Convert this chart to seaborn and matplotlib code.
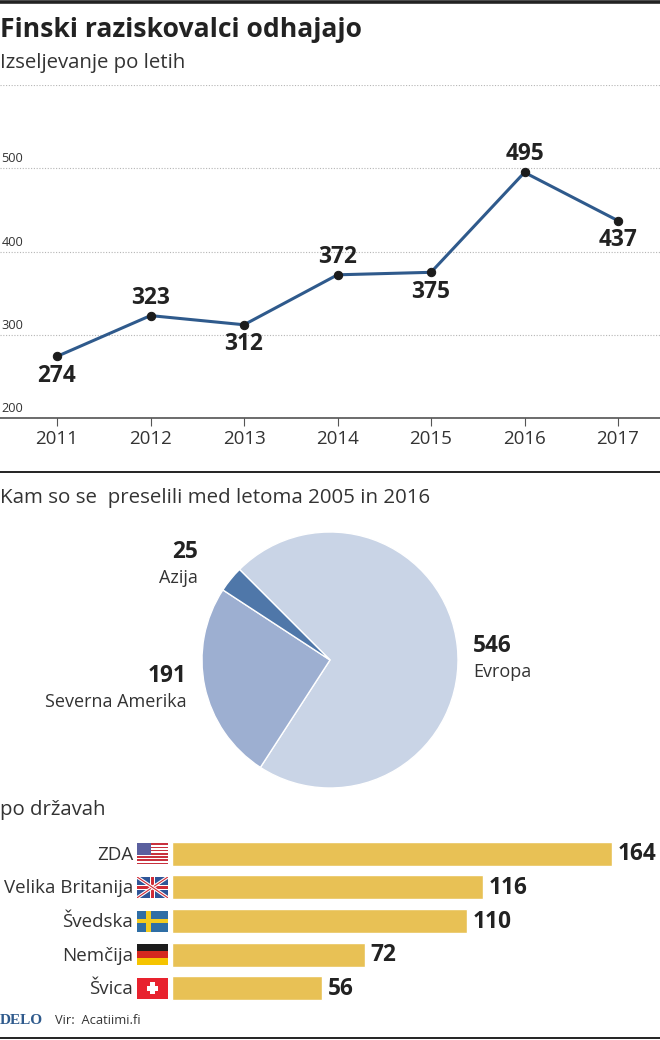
import matplotlib
matplotlib.use('Agg')
import matplotlib.pyplot as plt
from matplotlib.lines import Line2D
from matplotlib.patches import Rectangle
import pandas as pd
import seaborn as sns

W, H = 660, 1040

years = [2011, 2012, 2013, 2014, 2015, 2016, 2017]
emigrants = [274, 323, 312, 372, 375, 495, 437]
y_ticks = [200, 300, 400, 500, 600]

regions = ['Evropa', 'Severna Amerika', 'Azija']
region_values = [546, 191, 25]
region_colors = ['#c9d4e6', '#9dafd1', '#4f77a9']

countries = ['ZDA', 'Velika Britanija', 'Švedska', 'Nemčija', 'Švica']
country_values = [164, 116, 110, 72, 56]

DARK = '#222222'
TEXT = '#333333'
LINE = '#2f5a8c'
BAR = '#e8c155'
NUM_SIZE = 16.3

sns.set_theme(style='white')
plt.rcParams['font.family'] = ['Open Sans', 'DejaVu Sans']


def px_axes(fig, x0, y0, x1, y1):
    # pixel box with y measured from the top of the picture
    return fig.add_axes([x0 / W, 1 - y1 / H, (x1 - x0) / W, (y1 - y0) / H])


def label(fig, x, y, s, size=14.7, weight='normal', ha='left', color=TEXT, **kw):
    fig.text(x / W, 1 - y / H, s, fontsize=size, fontweight=weight, ha=ha,
             va='center', color=color, **kw)


def rule(fig, y, lw=1.5, color=DARK):
    fig.add_artist(Line2D([0, 1], [1 - y / H] * 2, color=color, lw=lw,
                          transform=fig.transFigure))


def draw_flag(fig, name, x0, y0, x1, y1):
    ax = px_axes(fig, x0, y0, x1, y1)
    ax.set_xlim(0, 1)
    ax.set_ylim(0, 1)
    ax.axis('off')
    def r(x, y, w, h, c):
        ax.add_patch(Rectangle((x, y), w, h, fc=c, ec='none'))
    if name == 'ZDA':
        r(0, 0, 1, 1, 'white')
        for i in range(0, 13, 2):
            r(0, i / 13, 1, 1 / 13, '#c8313e')
        r(0, 6 / 13, 0.45, 7 / 13, '#5a5f9e')
    elif name == 'Velika Britanija':
        r(0, 0, 1, 1, '#2f5597')
        for a, b in [((0, 0), (1, 1)), ((0, 1), (1, 0))]:
            ax.plot([a[0], b[0]], [a[1], b[1]], color='white', lw=2.4)
            ax.plot([a[0], b[0]], [a[1], b[1]], color='#cf2b36', lw=0.8)
        r(0.42, 0, 0.16, 1, 'white')
        r(0, 0.38, 1, 0.24, 'white')
        r(0.46, 0, 0.08, 1, '#cf2b36')
        r(0, 0.44, 1, 0.12, '#cf2b36')
    elif name == 'Švedska':
        r(0, 0, 1, 1, '#2f6ea5')
        r(0.30, 0, 0.16, 1, '#f3cb1f')
        r(0, 0.40, 1, 0.20, '#f3cb1f')
    elif name == 'Nemčija':
        r(0, 2 / 3, 1, 1 / 3, '#1c1c1c')
        r(0, 1 / 3, 1, 1 / 3, '#d5281f')
        r(0, 0, 1, 1 / 3, '#f5c400')
    elif name == 'Švica':
        r(0, 0, 1, 1, '#e8222e')
        r(0.43, 0.22, 0.14, 0.56, 'white')
        r(0.32, 0.39, 0.36, 0.22, 'white')


fig = plt.figure(figsize=(W / 100, H / 100), dpi=100, facecolor='white')

# outer rules
rule(fig, 1.5, lw=2.6)
rule(fig, 472, lw=1.4)
rule(fig, 1037.5, lw=1.4)

label(fig, 0, 30, 'Finski raziskovalci odhajajo', size=19.1, weight='bold', color=DARK)
label(fig, 0, 63, 'Izseljevanje po letih')

# line chart
ax = px_axes(fig, 0, 85, 660, 418)
df_line = pd.DataFrame({'year': years, 'value': emigrants})
sns.lineplot(data=df_line, x='year', y='value', ax=ax, color=LINE, lw=2.2,
             marker='o', markersize=6, markerfacecolor='#1c1c1c',
             markeredgecolor='#1c1c1c', zorder=3)
ax.set_xlim(2011 - 57 / 93.5, 2017 + 42 / 93.5)
ax.set_ylim(200, 600)
ax.set_yticks(y_ticks)
ax.set_yticklabels([])
ax.set_xticks(years)
ax.set_xticklabels(years, fontsize=13.5, color=TEXT)
ax.set_xlabel('')
ax.set_ylabel('')
ax.patch.set_alpha(0)
ax.grid(axis='y', color='#b5b5b5', lw=0.8, ls=(0, (1, 1.5)))
ax.tick_params(axis='x', bottom=True, length=6, width=0.8, color='#555555', pad=3)
ax.tick_params(axis='y', left=False)
for side in ['top', 'left', 'right']:
    ax.spines[side].set_visible(False)
ax.spines['bottom'].set_color('#444444')
ax.spines['bottom'].set_linewidth(1.1)
for t in y_ticks[:-1]:
    ax.annotate(str(t), (0, t), xycoords=('axes fraction', 'data'),
                xytext=(1, 2), textcoords='offset points',
                fontsize=9.2, color=TEXT, ha='left', va='bottom')
# value labels, above or below the point
above = [False, True, False, True, False, True, False]
for yr, val, up in zip(years, emigrants, above):
    ax.annotate(str(val), (yr, val), xytext=(0, 13 if up else -14),
                textcoords='offset points', ha='center', va='center',
                fontsize=NUM_SIZE, fontweight='bold', color=DARK)

label(fig, 0, 498, 'Kam so se  preselili med letoma 2005 in 2016', size=14.75)

# pie
pie_ax = px_axes(fig, 202, 532, 458, 788)
pie_ax.pie(region_values, colors=region_colors, startangle=135, counterclock=False,
           radius=1.0, wedgeprops=dict(edgecolor='white', linewidth=1.0))
pie_ax.set_xlim(-1, 1)
pie_ax.set_ylim(-1, 1)

label(fig, 473, 646, '546', size=NUM_SIZE, weight='bold', color=DARK)
label(fig, 473, 672, 'Evropa', size=13)
label(fig, 187, 676, '191', size=NUM_SIZE, weight='bold', ha='right', color=DARK)
label(fig, 187, 702, 'Severna Amerika', size=13, ha='right')
label(fig, 198, 552, '25', size=NUM_SIZE, weight='bold', ha='right', color=DARK)
label(fig, 198, 578, 'Azija', size=13, ha='right')

label(fig, 0, 810, 'po državah')

# bars
bar_ax = px_axes(fig, 172, 837, 660, 1005)
df_bar = pd.DataFrame({'country': countries, 'value': country_values})
sns.barplot(data=df_bar, x='value', y='country', ax=bar_ax, color=BAR,
            saturation=1, width=0.71, orient='h')
bar_ax.set_xlim(0, 488 / (440 / 164))
bar_ax.set_ylim(4.5, -0.5)
bar_ax.axis('off')
for i, v in enumerate(country_values):
    bar_ax.annotate(str(v), (v, i), xytext=(4, -0.5), textcoords='offset points',
                    va='center', ha='left', fontsize=NUM_SIZE, fontweight='bold',
                    color=DARK)

row_h = 168 / 5
for i, name in enumerate(countries):
    yc = 837 + row_h * (i + 0.5)
    label(fig, 133, yc + 1, name, size=13.5, ha='right')
    draw_flag(fig, name, 137, yc - 10.5, 168, yc + 10.5)

# footer
fig.text(0 / W, 1 - 1021 / H, 'DELO', fontsize=11, fontweight='bold', va='center',
         color='#2f5a8c', family=['Liberation Serif', 'DejaVu Serif'])
label(fig, 55, 1021, 'Vir:  Acatiimi.fi', size=9.3)

fig.savefig('out.png', dpi=100, facecolor='white')
plt.close(fig)
